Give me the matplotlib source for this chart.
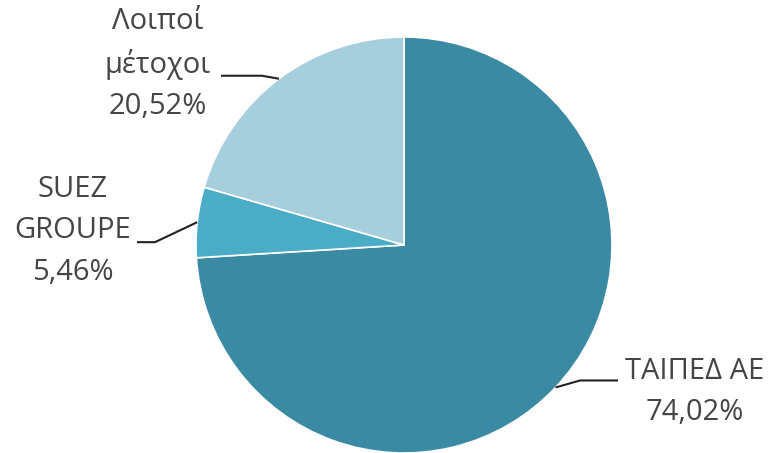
import numpy as np
import matplotlib
matplotlib.use("Agg")
import matplotlib.pyplot as plt

labels = ["ΤΑΙΠΕΔ ΑΕ", "SUEZ\nGROUPE", "Λοιποί\nμέτοχοι"]
values = [74.02, 5.46, 20.52]
pct_text = ["74,02%", "5,46%", "20,52%"]
colors = ["#3a8aa3", "#4aacc6", "#a6cedd"]

plt.rcParams['font.family'] = ['Open Sans', 'DejaVu Sans']

W, H = 771, 453
fig = plt.figure(figsize=(W / 100, H / 100), dpi=100)
ax = fig.add_axes([0, 0, 1, 1])

cx, cy, R = 404, 208, 208
wedges, _ = ax.pie(values, colors=colors, startangle=90, counterclock=False,
                   center=(cx, cy), radius=R, frame=True,
                   wedgeprops=dict(linewidth=1.2, edgecolor='white'))
ax.set_xlim(0, W)
ax.set_ylim(0, H)
ax.set_aspect('equal')
ax.axis('off')

# label layout: text centre, elbow x, line end x, elbow y offset from anchor
layout = [
    dict(tx=695, ty=453 - 392, ex=580, lx=618, dy=7),
    dict(tx=73, ty=453 - 231, ex=155, lx=137, dy=-20),
    dict(tx=158, ty=453 - 64, ex=262, lx=221, dy=3),
]

for w, lab, pct, lay in zip(wedges, labels, pct_text, layout):
    ang = np.deg2rad((w.theta1 + w.theta2) / 2)
    ax_, ay_ = cx + R * np.cos(ang), cy + R * np.sin(ang)
    ey = ay_ + lay['dy']
    ax.plot([ax_, lay['ex'], lay['lx']], [ay_, ey, ey], color='#222222', lw=1.5,
            solid_capstyle='butt')
    ax.text(lay['tx'], lay['ty'], lab + "\n" + pct, ha='center', va='center',
            fontsize=21, color='#454545', linespacing=1.55)

fig.savefig("out.png", dpi=100, facecolor='white')
